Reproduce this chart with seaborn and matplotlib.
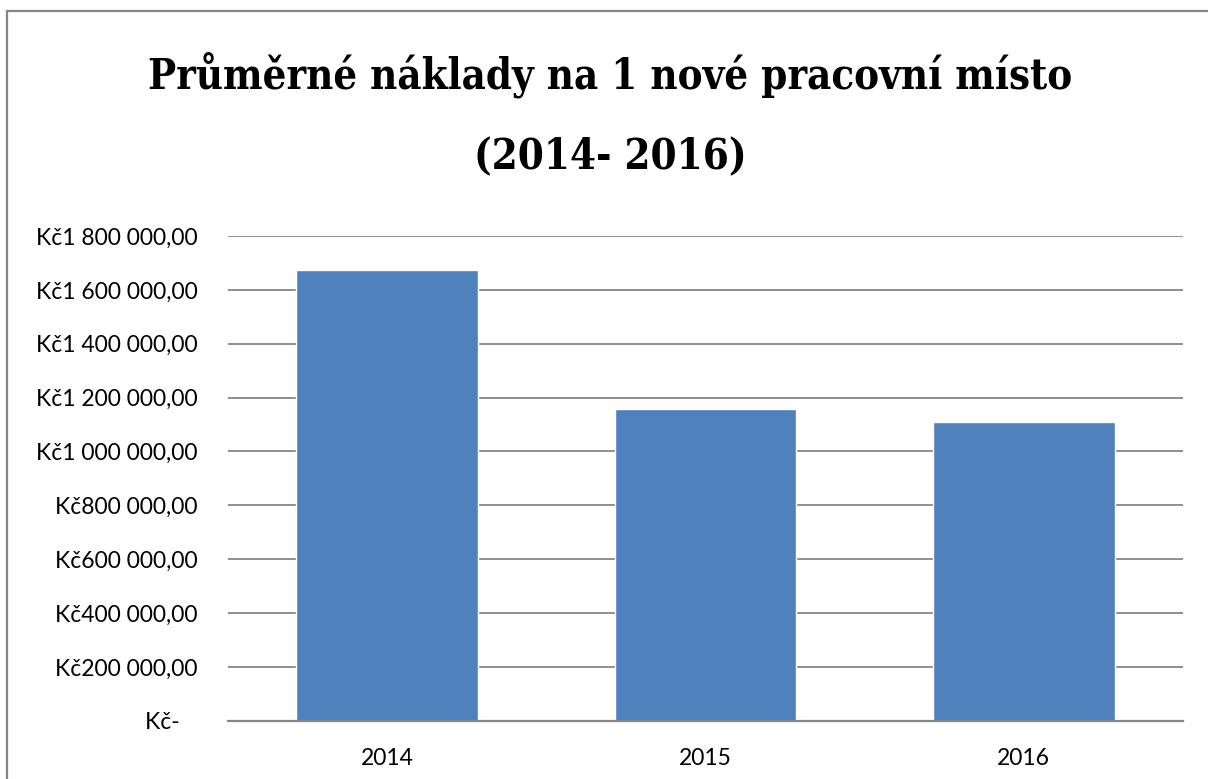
import matplotlib
matplotlib.use("Agg")
import matplotlib.pyplot as plt
import seaborn as sns
import pandas as pd
from matplotlib.patches import Rectangle

years = ["2014", "2015", "2016"]
costs = [1673700, 1157500, 1110400]
ytick_values = [0, 200000, 400000, 600000, 800000, 1000000, 1200000, 1400000, 1600000, 1800000]
ytick_labels = ["Kč-   ", "Kč200 000,00", "Kč400 000,00", "Kč600 000,00", "Kč800 000,00",
                "Kč1 000 000,00", "Kč1 200 000,00", "Kč1 400 000,00", "Kč1 600 000,00", "Kč1 800 000,00"]
title_line1 = "Průměrné náklady na 1 nové pracovní místo"
title_line2 = "(2014- 2016)"

sns.set_theme(style="white")
plt.rcParams['font.family'] = ['Lato', 'DejaVu Sans']

df = pd.DataFrame({"year": years, "cost": costs})

W, H = 1208, 779
fig = plt.figure(figsize=(W / 100, H / 100), dpi=100)
ax = fig.add_axes([228 / W, 1 - 720.7 / H, (1183 - 228) / W, (720.7 - 236) / H])

sns.barplot(data=df, x="year", y="cost", color="#4F81BD", saturation=1, width=0.57, ax=ax)

ax.set_ylim(0, 1800000)
ax.set_xlim(-0.5, 2.5)
ax.set_yticks(ytick_values)
ax.set_yticklabels(ytick_labels)
ax.grid(axis="y", color="#868686", linewidth=1.3)
ax.set_axisbelow(True)
for s in ["top", "right", "left"]:
    ax.spines[s].set_visible(False)
ax.spines["bottom"].set_color("#868686")
ax.spines["bottom"].set_linewidth(1.6)
ax.tick_params(axis="y", length=0, pad=22, labelsize=16.5, colors="black")
ax.tick_params(axis="x", length=0, pad=20, labelsize=16.5, colors="black")
ax.set_xlabel("")
ax.set_ylabel("")

fig.text(610 / W, 1 - 75 / H, title_line1, ha="center", va="center", fontsize=30,
         fontweight="bold", fontstretch="condensed", color="black", family=["DejaVu Serif"])
fig.text(610 / W, 1 - 157 / H, title_line2, ha="center", va="center", fontsize=30,
         fontweight="bold", fontstretch="condensed", color="black", family=["DejaVu Serif"])

fig.patches.append(Rectangle((7 / W, -0.1), 1.2, 1 - 11 / H + 0.1, transform=fig.transFigure,
                             fill=False, edgecolor="#868686", linewidth=1.6))

fig.savefig("out.png", dpi=100, facecolor="white")
